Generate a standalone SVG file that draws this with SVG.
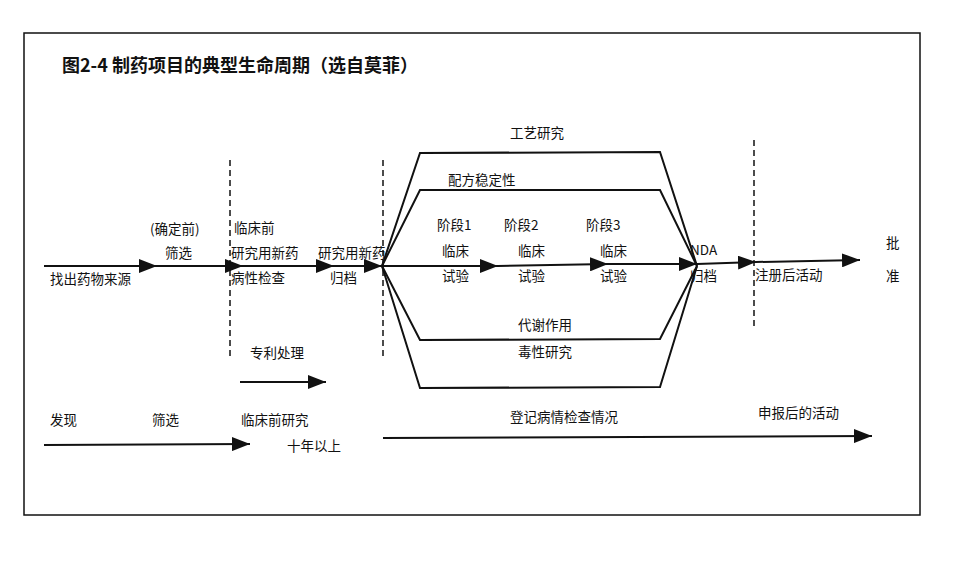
<svg xmlns="http://www.w3.org/2000/svg" width="960" height="570" viewBox="0 0 960 570">
<style>
text{font-family:"Noto Sans CJK SC","Liberation Serif",serif;font-size:13.5px;fill:#111}
.t{font-size:18px;font-weight:bold}
.l{stroke:#111;stroke-width:2;fill:none}
.d{stroke:#111;stroke-width:1.5;stroke-dasharray:6,4;fill:none}
</style>
<defs><marker id="b" viewBox="0 0 10 10" refX="10" refY="5" markerWidth="18" markerHeight="14" markerUnits="userSpaceOnUse" orient="auto" preserveAspectRatio="none"><path d="M0,0L10,5L0,10z" fill="#111"/></marker></defs>
<rect width="960" height="570" fill="#fff"/>
<rect x="24" y="33" width="896" height="482" fill="none" stroke="#111" stroke-width="1.5"/>
<text class="t" x="62" y="72">图2-4 制药项目的典型生命周期（选自莫菲）</text>
<g id="connectors">
<line class="l" x1="44" y1="266" x2="157" y2="266" marker-end="url(#b)"/>
<line class="l" x1="157" y1="266" x2="243" y2="266" marker-end="url(#b)"/>
<line class="l" x1="243" y1="266" x2="334" y2="266" marker-end="url(#b)"/>
<line class="l" x1="334" y1="266" x2="382" y2="266" marker-end="url(#b)"/>
<line class="l" x1="382" y1="266" x2="498" y2="266" marker-end="url(#b)"/>
<line class="l" x1="498" y1="266" x2="608" y2="264" marker-end="url(#b)"/>
<line class="l" x1="608" y1="264" x2="697" y2="264" marker-end="url(#b)"/>
<line class="l" x1="697" y1="264" x2="756" y2="262" marker-end="url(#b)"/>
<line class="l" x1="756" y1="262" x2="860" y2="260" marker-end="url(#b)"/>
<polyline class="l" points="382,266 420,153 660,152 697,266"/>
<polyline class="l" points="382,266 420,190 660,190 697,266"/>
<polyline class="l" points="382,266 420,340 660,339 697,266"/>
<polyline class="l" points="382,266 420,388 660,387 697,266"/>
<line class="d" x1="230" y1="160" x2="230" y2="356"/>
<line class="d" x1="383" y1="160" x2="383" y2="356"/>
<line class="d" x1="754" y1="140" x2="754" y2="326"/>
<line class="l" x1="240" y1="382" x2="326" y2="382" marker-end="url(#b)"/>
<line class="l" x1="44" y1="445" x2="250" y2="444" marker-end="url(#b)"/>
<line class="l" x1="383" y1="438" x2="872" y2="436" marker-end="url(#b)"/>
</g>
<g id="labels">
<text x="50" y="284">找出药物来源</text>
<text x="150" y="234">(确定前)</text>
<text x="165" y="258">筛选</text>
<text x="234" y="233">临床前</text>
<text x="231" y="258">研究用新药</text>
<text x="231" y="283">病性检查</text>
<text x="318" y="258">研究用新药</text>
<text x="330" y="283">归档</text>
<text x="510" y="138">工艺研究</text>
<text x="448" y="185">配方稳定性</text>
<text x="437" y="230">阶段1</text>
<text x="442" y="256">临床</text>
<text x="442" y="281">试验</text>
<text x="504" y="230">阶段2</text>
<text x="518" y="256">临床</text>
<text x="518" y="281">试验</text>
<text x="586" y="230">阶段3</text>
<text x="600" y="256">临床</text>
<text x="600" y="281">试验</text>
<text x="690" y="255">NDA</text>
<text x="690" y="281">归档</text>
<text x="755" y="280">注册后活动</text>
<text x="886" y="248">批</text>
<text x="886" y="281">准</text>
<text x="518" y="330">代谢作用</text>
<text x="518" y="357">毒性研究</text>
<text x="250" y="358">专利处理</text>
<text x="50" y="425">发现</text>
<text x="152" y="425">筛选</text>
<text x="241" y="425">临床前研究</text>
<text x="287" y="451">十年以上</text>
<text x="510" y="422">登记病情检查情况</text>
<text x="758" y="418">申报后的活动</text>
</g>
</svg>
